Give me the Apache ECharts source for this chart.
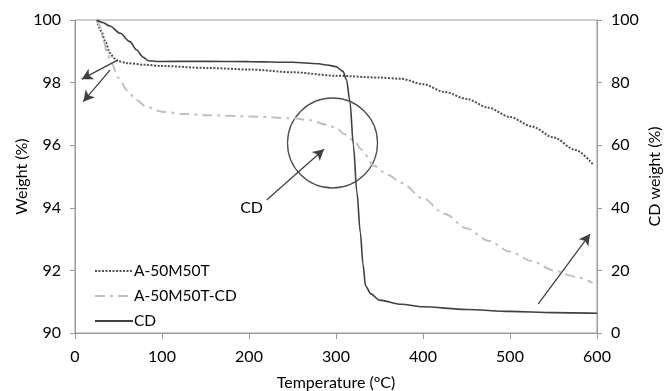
<!DOCTYPE html>
<html>
<head>
<meta charset="utf-8">
<script src="https://cdn.jsdelivr.net/npm/echarts@6/dist/echarts.min.js"></script>
<style>html,body{margin:0;padding:0;background:#fff;}#c{width:666px;height:391px;}</style>
</head>
<body>
<div id="c"></div>
<script>
// Temperature (°C), weight (%) pairs
const seriesNames = ['A-50M50T', 'A-50M50T-CD', 'CD'];
const xTicks = [0, 100, 200, 300, 400, 500, 600];
const leftTicks = [90, 92, 94, 96, 98, 100];
const rightTicks = [0, 20, 40, 60, 80, 100];

const a50m50t = [
  [25,100],[30,99.65],[35,99.3],[40,98.95],[45,98.78],[50,98.68],[60,98.62],[80,98.57],
  [100,98.53],[150,98.47],[200,98.42],[250,98.33],[300,98.22],[350,98.16],[375,98.12],
  [400,97.95],[425,97.7],[450,97.48],[475,97.2],[500,96.9],[525,96.6],[550,96.25],
  [575,95.85],[595,95.4]
];
const a50m50tCD = [
  [25,100],[28,99.85],[32.6,99.36],[37,98.95],[42,98.62],[50,98.15],[60,97.75],[70,97.45],
  [82,97.23],[100,97.07],[125,97.0],[150,96.96],[200,96.92],[250,96.86],[270,96.8],
  [290,96.65],[300,96.55],[310,96.35],[320,96.15],[330,95.85],[343,95.35],[360,95.05],
  [375,94.8],[400,94.3],[425,93.8],[450,93.35],[475,92.95],[500,92.6],[525,92.3],
  [550,92.0],[575,91.8],[595,91.6]
];
const cd = [
  [25,100],[32,99.2],[40,98.1],[52,95.75],[63,93.1],[71,90.4],[78,88.2],[84,87.0],
  [94,86.75],[150,86.8],[200,86.7],[250,86.5],[280,86.0],[290,85.6],[300,85.1],
  [308,83.6],[312,81],[316,74],[320,60],[324,45],[328,32],[331,22],[334,15],[340,12.5],
  [350,10.5],[375,9.2],[400,8.4],[450,7.5],[500,6.9],[550,6.5],[600,6.3]
];
// annotation arrows (data coords on left axis)
const arrows = [
  [[47.9,98.70],[7.7,98.11]],
  [[40.2,98.40],[9.5,97.39]],
  [[220.3,94.25],[286.2,95.87]],
  [[532.5,90.93],[592,93.16]]
];
const circleCenter = [296, 96.07];
const cdLabelPos = [203, 94.0];

const chart = echarts.init(document.getElementById('c'), null, {renderer: 'canvas'});
const FONT = 'Lato';
const axisGray = '#9a9a9a';

const option = {
  animation: false,
  grid: {left: 75, right: 69, top: 20, bottom: 58, show: true, borderColor: axisGray, borderWidth: 1,
         outerBoundsMode: 'none', containLabel: false},
  legend: {
    orient: 'vertical', left: 89, top: 258, itemWidth: 38, itemHeight: 14, itemGap: 9,
    itemStyle: {color: 'rgba(0,0,0,0)', borderWidth: 0, opacity: 0},
    textStyle: {fontFamily: FONT, fontSize: 15.5, color: '#000', padding: [0,0,0,-4]},
    data: seriesNames
  },
  xAxis: {
    type: 'value', min: 0, max: 600, interval: 100,
    name: 'Temperature (°C)', nameLocation: 'middle', nameGap: 42, nameMoveOverlap: false,
    nameTextStyle: {fontFamily: FONT, fontSize: 16, color: '#000'},
    axisLine: {show: true, lineStyle: {color: axisGray}},
    axisTick: {show: true, length: 6, lineStyle: {color: axisGray}},
    axisLabel: {fontFamily: FONT, fontSize: 16, color: '#000', margin: 16},
    splitLine: {show: false}
  },
  yAxis: [{
    type: 'value', min: 90, max: 100, interval: 2,
    name: 'Weight (%)', nameLocation: 'middle', nameGap: 45, nameMoveOverlap: false,
    nameTextStyle: {fontFamily: FONT, fontSize: 16, color: '#000'},
    axisLine: {show: true, lineStyle: {color: axisGray}},
    axisTick: {show: true, length: 5, lineStyle: {color: axisGray}},
    axisLabel: {fontFamily: FONT, fontSize: 16, color: '#000', margin: 14},
    splitLine: {show: false}
  }, {
    type: 'value', min: 0, max: 100, interval: 20, position: 'right',
    name: 'CD weight (%)', nameLocation: 'middle', nameGap: 50, nameMoveOverlap: false,
    nameTextStyle: {fontFamily: FONT, fontSize: 16, color: '#000'},
    axisLine: {show: true, lineStyle: {color: axisGray}},
    axisTick: {show: true, length: 5, lineStyle: {color: axisGray}},
    axisLabel: {fontFamily: FONT, fontSize: 16, color: '#000', margin: 14},
    splitLine: {show: false}
  }],
  series: [{
    name: 'A-50M50T', type: 'line', yAxisIndex: 0, data: a50m50t,
    symbol: 'none', smooth: 0.3, smoothMonotone: 'x',
    lineStyle: {color: '#505050', width: 2, type: [2, 1.5]},
    itemStyle: {color: '#505050'},
    markLine: {
      silent: true, symbol: ['none', 'arrow'], symbolSize: [9, 11],
      label: {show: false},
      lineStyle: {color: '#404040', width: 1.3, type: 'solid'},
      data: arrows.map(a => [{coord: a[0]}, {coord: a[1]}])
    }
  }, {
    name: 'A-50M50T-CD', type: 'line', yAxisIndex: 0, data: a50m50tCD,
    symbol: 'none', smooth: 0.3, smoothMonotone: 'x',
    lineStyle: {color: '#c0c0c0', width: 2, type: [10, 5, 3, 5]},
    itemStyle: {color: '#c0c0c0'}
  }, {
    name: 'CD', type: 'line', yAxisIndex: 1, data: cd,
    symbol: 'none', smooth: 0.3, smoothMonotone: 'x',
    lineStyle: {color: '#404040', width: 1.6, type: 'solid'},
    itemStyle: {color: '#404040'}
  }]
};
chart.setOption(option);

function drawExtras() {
  const c = chart.convertToPixel({gridIndex: 0}, circleCenter);
  const t = chart.convertToPixel({gridIndex: 0}, cdLabelPos);
  chart.setOption({
    graphic: [{
      type: 'circle', shape: {cx: c[0], cy: c[1], r: 45},
      style: {fill: 'none', stroke: '#505050', lineWidth: 1.3}, silent: true
    }, {
      type: 'text', x: t[0], y: t[1],
      style: {text: 'CD', fontFamily: FONT, fontSize: 16, fill: '#000', align: 'center', verticalAlign: 'middle'},
      silent: true
    }]
  });
}
drawExtras();
</script>
</body>
</html>
